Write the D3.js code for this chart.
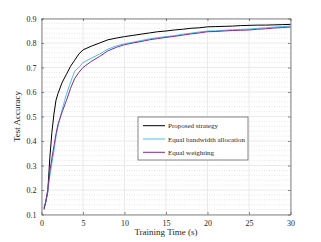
<!DOCTYPE html>
<html>
<head>
<meta charset="utf-8">
<script src="https://cdn.jsdelivr.net/npm/d3@7"></script>
<style>
  body { margin: 0; background: #fff; }
  svg text { font-family: "Liberation Serif", "DejaVu Serif", serif; fill: #262626; }
</style>
</head>
<body>
<svg id="chart" width="321" height="242"></svg>
<script>
// training time (s)
const times = [0.3, 0.5, 0.75, 1, 1.25, 1.5, 1.75, 2, 2.5, 3, 3.5, 4, 4.5, 5, 6, 7, 8, 9, 10,
  11, 12, 13, 14, 15, 16, 17, 18, 19, 20, 21, 22, 23, 24, 25, 26, 27, 28, 29, 30];
const proposed = [0.125, 0.15, 0.19, 0.33, 0.435, 0.51, 0.567, 0.595, 0.64, 0.672, 0.705, 0.73, 0.755, 0.772,
  0.787, 0.80, 0.813, 0.82, 0.826, 0.831, 0.836, 0.841, 0.846, 0.849, 0.853, 0.856, 0.86, 0.862, 0.866,
  0.867, 0.868, 0.869, 0.871, 0.872, 0.873, 0.873, 0.874, 0.875, 0.876];
const equalBw = [0.135, 0.148, 0.2, 0.255, 0.31, 0.36, 0.418, 0.46, 0.53, 0.59, 0.64, 0.685, 0.70, 0.72,
  0.738, 0.755, 0.775, 0.788, 0.797, 0.803, 0.81, 0.817, 0.822, 0.826, 0.83, 0.836, 0.84, 0.845, 0.849,
  0.85, 0.852, 0.854, 0.855, 0.857, 0.86, 0.862, 0.865, 0.867, 0.869];
const equalW = [0.12, 0.15, 0.2, 0.275, 0.33, 0.38, 0.43, 0.47, 0.52, 0.565, 0.615, 0.655, 0.68, 0.70,
  0.725, 0.745, 0.768, 0.782, 0.793, 0.80, 0.806, 0.813, 0.818, 0.823, 0.827, 0.832, 0.837, 0.841, 0.846,
  0.847, 0.849, 0.851, 0.852, 0.853, 0.856, 0.858, 0.861, 0.863, 0.865];
const seriesNames = ["Proposed strategy", "Equal bandwidth allocation", "Equal weighting"];
const seriesColors = ["#000000", "#4DBEEE", "#7E2F8E"];
const xTicks = [0, 5, 10, 15, 20, 25, 30];
const yTicks = [0.1, 0.2, 0.3, 0.4, 0.5, 0.6, 0.7, 0.8, 0.9];

const mLeft = 41.5, mRight = 290.5, mTop = 18.5, mBottom = 214.5;
const svg = d3.select("#chart");

const x = d3.scaleLinear().domain([0, 30]).range([mLeft, mRight]);
const y = d3.scaleLinear().domain([0.1, 0.9]).range([mBottom, mTop]);

// minor grid (dotted)
const minor = d3.range(0.1, 0.9001, 0.02).filter(v => Math.abs(Math.round(v * 10) - v * 10) > 0.01);
svg.append("g").selectAll("line").data(minor).join("line")
  .attr("x1", mLeft).attr("x2", mRight)
  .attr("y1", d => y(d)).attr("y2", d => y(d))
  .attr("stroke", "#d4d4d4").attr("stroke-width", 0.6).attr("stroke-dasharray", "1,1.5");

// major grid
const grid = svg.append("g");
grid.selectAll(".gy").data(yTicks).join("line")
  .attr("x1", mLeft).attr("x2", mRight)
  .attr("y1", d => y(d)).attr("y2", d => y(d))
  .attr("stroke", "#e4e4e4").attr("stroke-width", 0.8);
grid.selectAll(".gx").data(xTicks).join("line")
  .attr("x1", d => x(d)).attr("x2", d => x(d))
  .attr("y1", mTop).attr("y2", mBottom)
  .attr("stroke", "#e4e4e4").attr("stroke-width", 0.8);

// lines
const line = d3.line().x((d, i) => x(times[i])).y(d => y(d));
[proposed, equalBw, equalW].forEach((s, k) => {
  svg.append("path").datum(s)
    .attr("d", line)
    .attr("fill", "none")
    .attr("stroke", seriesColors[k])
    .attr("stroke-width", 1);
});

// axes
svg.append("g").attr("transform", `translate(0,${mBottom})`)
  .call(d3.axisBottom(x).tickValues(xTicks).tickSizeInner(-2.5).tickSizeOuter(0).tickPadding(6));
svg.append("g").attr("transform", `translate(${mLeft},0)`)
  .call(d3.axisLeft(y).tickValues(yTicks).tickFormat(d3.format(".1f")).tickSizeInner(-2.5).tickSizeOuter(0).tickPadding(5));
svg.append("g").attr("transform", `translate(0,${mTop})`)
  .call(d3.axisTop(x).tickValues(xTicks).tickSizeInner(-2.5).tickSizeOuter(0).tickFormat(""));
svg.append("g").attr("transform", `translate(${mRight},0)`)
  .call(d3.axisRight(y).tickValues(yTicks).tickSizeInner(-2.5).tickSizeOuter(0).tickFormat(""));
svg.selectAll(".domain, .tick line").attr("stroke", "#555").attr("stroke-width", 0.7);
svg.selectAll(".tick text").attr("font-size", 8).attr("fill", "#262626")
  .style("font-family", "'Liberation Serif', serif");

// axis labels
svg.append("text").attr("x", (mLeft + mRight) / 2).attr("y", 235)
  .attr("text-anchor", "middle").attr("font-size", 9).text("Training Time (s)");
svg.append("text").attr("transform", `translate(20,${(mTop + mBottom) / 2}) rotate(-90)`)
  .attr("text-anchor", "middle").attr("font-size", 9).text("Test Accuracy");

// legend
const lg = svg.append("g");
lg.append("rect").attr("x", 138).attr("y", 117).attr("width", 110).attr("height", 43)
  .attr("fill", "#fff").attr("stroke", "#555").attr("stroke-width", 0.7);
seriesNames.forEach((n, i) => {
  const ly = 125.7 + i * 13.3;
  lg.append("line").attr("x1", 143).attr("x2", 165).attr("y1", ly).attr("y2", ly)
    .attr("stroke", seriesColors[i]).attr("stroke-width", 1);
  lg.append("text").attr("x", 168).attr("y", ly + 2.5).attr("font-size", 7).text(n);
});
</script>
</body>
</html>
